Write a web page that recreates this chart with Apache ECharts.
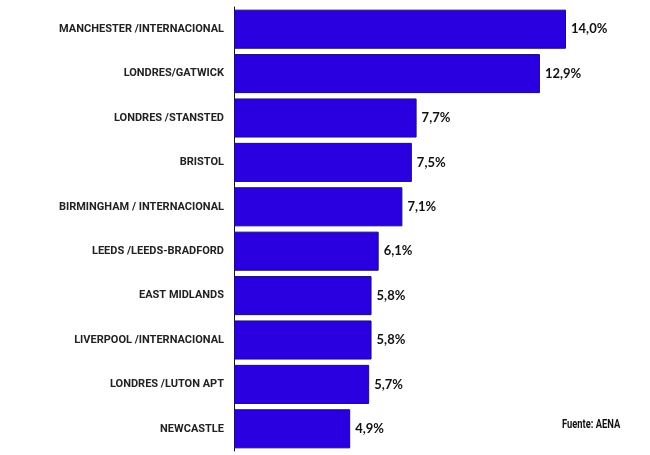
<!DOCTYPE html>
<html>
<head>
<meta charset="utf-8">
<script src="https://cdn.jsdelivr.net/npm/echarts@6/dist/echarts.min.js"></script>
<style>
  html, body { margin: 0; padding: 0; background: #fff; }
  #chart { width: 650px; height: 455px; }
</style>
</head>
<body>
<div id="chart"></div>
<script>
// aeropuertos, de arriba abajo
const airports = [
  'MANCHESTER /INTERNACIONAL',
  'LONDRES/GATWICK',
  'LONDRES /STANSTED',
  'BRISTOL',
  'BIRMINGHAM / INTERNACIONAL',
  'LEEDS /LEEDS-BRADFORD',
  'EAST MIDLANDS',
  'LIVERPOOL /INTERNACIONAL',
  'LONDRES /LUTON APT',
  'NEWCASTLE'
];
const shares = [14.0, 12.9, 7.7, 7.5, 7.1, 6.1, 5.8, 5.8, 5.7, 4.9];
const source = 'Fuente: AENA';

const chart = echarts.init(document.getElementById('chart'));

chart.setOption({
  animation: false,
  grid: { left: 234, right: 10, top: 7, bottom: 4 },
  xAxis: {
    type: 'value',
    min: 0,
    max: 17.12,
    show: false
  },
  yAxis: {
    type: 'category',
    inverse: true,
    data: airports,
    axisLine: { show: true, lineStyle: { color: '#111', width: 1 } },
    axisTick: { show: false },
    axisLabel: {
      color: '#222',
      fontFamily: 'Roboto',
      fontWeight: 'bold',
      fontSize: 11,
      margin: 10
    }
  },
  series: [{
    type: 'bar',
    data: shares,
    barCategoryGap: '12%',
    itemStyle: { color: '#2b00e0', borderColor: '#1a0a80', borderWidth: 1 },
    label: {
      show: true,
      position: 'right',
      distance: 5,
      color: '#111',
      fontFamily: 'Lato',
      fontWeight: 'bold',
      fontSize: 13,
      formatter: p => p.value.toFixed(1).replace('.', ',') + '%'
    }
  }],
  graphic: [{
    type: 'text',
    x: 562,
    y: 418,
    scaleX: 0.72,
    style: {
      text: source,
      fill: '#111',
      font: 'bold 13px Roboto, sans-serif'
    }
  }]
});
</script>
</body>
</html>
